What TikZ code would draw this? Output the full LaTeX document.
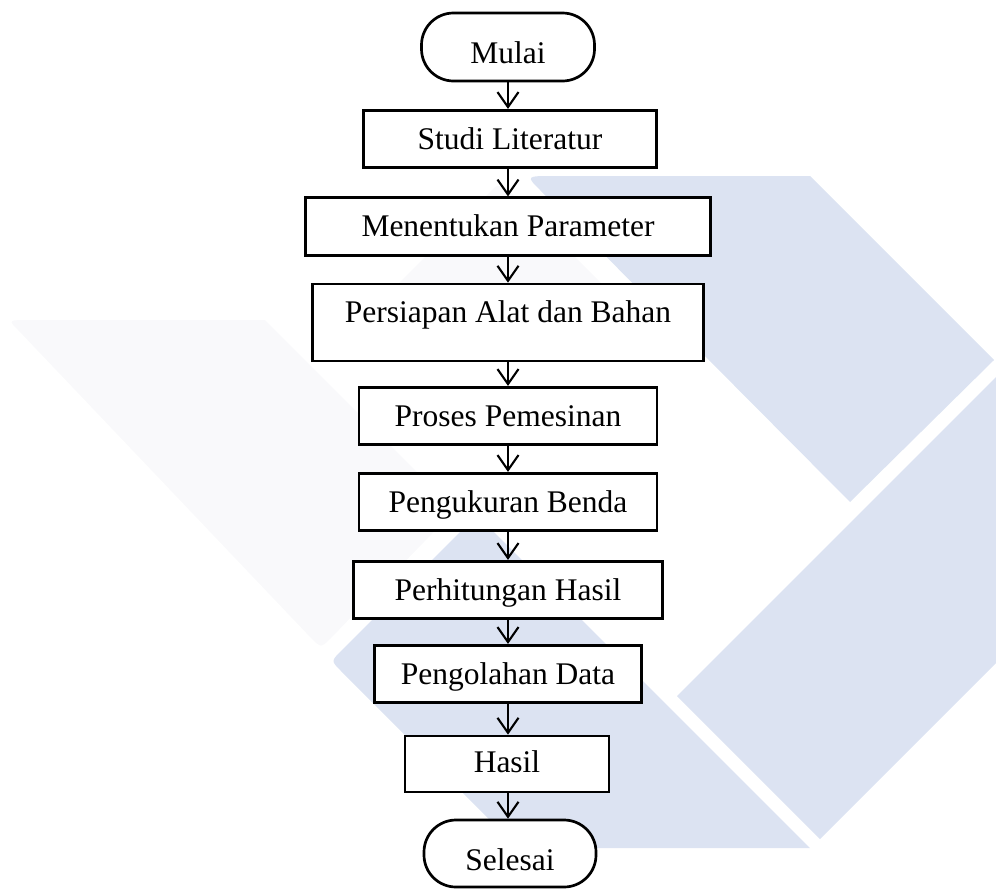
\documentclass[tikz,border=0pt]{standalone}
\usepackage{fontspec}
\setmainfont{Liberation Serif}
\usetikzlibrary{arrows.meta}
\definecolor{wmblue}{RGB}{220,227,242}
\definecolor{wmgray}{RGB}{249,249,251}
\begin{document}
\begin{tikzpicture}[x=1pt,y=-1pt,
  every node/.style={font=\fontsize{31.5pt}{36pt}\selectfont},
  box/.style={draw, fill=white, line width=2.7pt, inner sep=0pt, text height=39pt, text depth=18.5pt},
  term/.style={box, rounded corners=32pt, text height=50pt, text depth=18pt},
  arr/.style={line width=2.1pt, -{Straight Barb[length=15pt,width=21pt]}}]
\useasboundingbox (0,0) rectangle (996,889);
% watermark
\fill[wmgray] (30,320) -- (265,320) -- (455,510) -- (331,638) .. controls (321,648) .. (311,638) -- (18,330) .. controls (8,320) .. cycle;
\fill[wmgray] (500,186) .. controls (504,186) .. (508,190) -- (645,327) -- (355,327) -- (492,190) .. controls (496,186) .. cycle;
\fill[wmblue] (554,176) -- (810,176) -- (994,360) -- (850,502) -- (540,190) .. controls (526,176) .. cycle;
\fill[wmblue] (1012,361) -- (677,696) -- (820,839) -- (1012,647) -- cycle;
\fill[wmblue] (477,515) -- (810,848) -- (518,848) -- (341,671) .. controls (331,661) .. (341,651) -- cycle;
% nodes
\node[term, minimum width=173pt] (mulai) at (508,47) {Mulai};
\node[box, minimum width=293pt] (studi) at (510,139) {Studi Literatur};
\node[box, minimum width=405pt] (param) at (508,226.5) {Menentukan Parameter};
\node[box, minimum width=391pt, text height=38pt, text depth=39pt] (alat) at (508,322.5) {Persiapan Alat dan Bahan};
\node[box, minimum width=298pt] (proses) at (508,416) {Proses Pemesinan};
\node[box, minimum width=298pt] (ukur) at (508,502) {Pengukuran Benda};
\node[box, minimum width=309pt] (hitung) at (508,590) {Perhitungan Hasil};
\node[box, minimum width=267pt] (olah) at (508,674) {Pengolahan Data};
\node[box, minimum width=204pt, text height=36pt, text depth=20pt] (hasil) at (507,764) {Hasil};
\node[term, minimum width=172pt, text depth=17pt] (selesai) at (510,853.5) {Selesai};
% arrows
\draw[arr] (mulai.south) -- (mulai.south |- studi.north);
\draw[arr] (mulai.south |- studi.south) -- (mulai.south |- param.north);
\draw[arr] (param.south) -- (param.south |- alat.north);
\draw[arr] (alat.south) -- (alat.south |- proses.north);
\draw[arr] (proses.south) -- (proses.south |- ukur.north);
\draw[arr] (ukur.south) -- (ukur.south |- hitung.north);
\draw[arr] (hitung.south) -- (hitung.south |- olah.north);
\draw[arr] (olah.south) -- (olah.south |- hasil.north);
\draw[arr] (olah.south |- hasil.south) -- (olah.south |- selesai.north);
\end{tikzpicture}
\end{document}
